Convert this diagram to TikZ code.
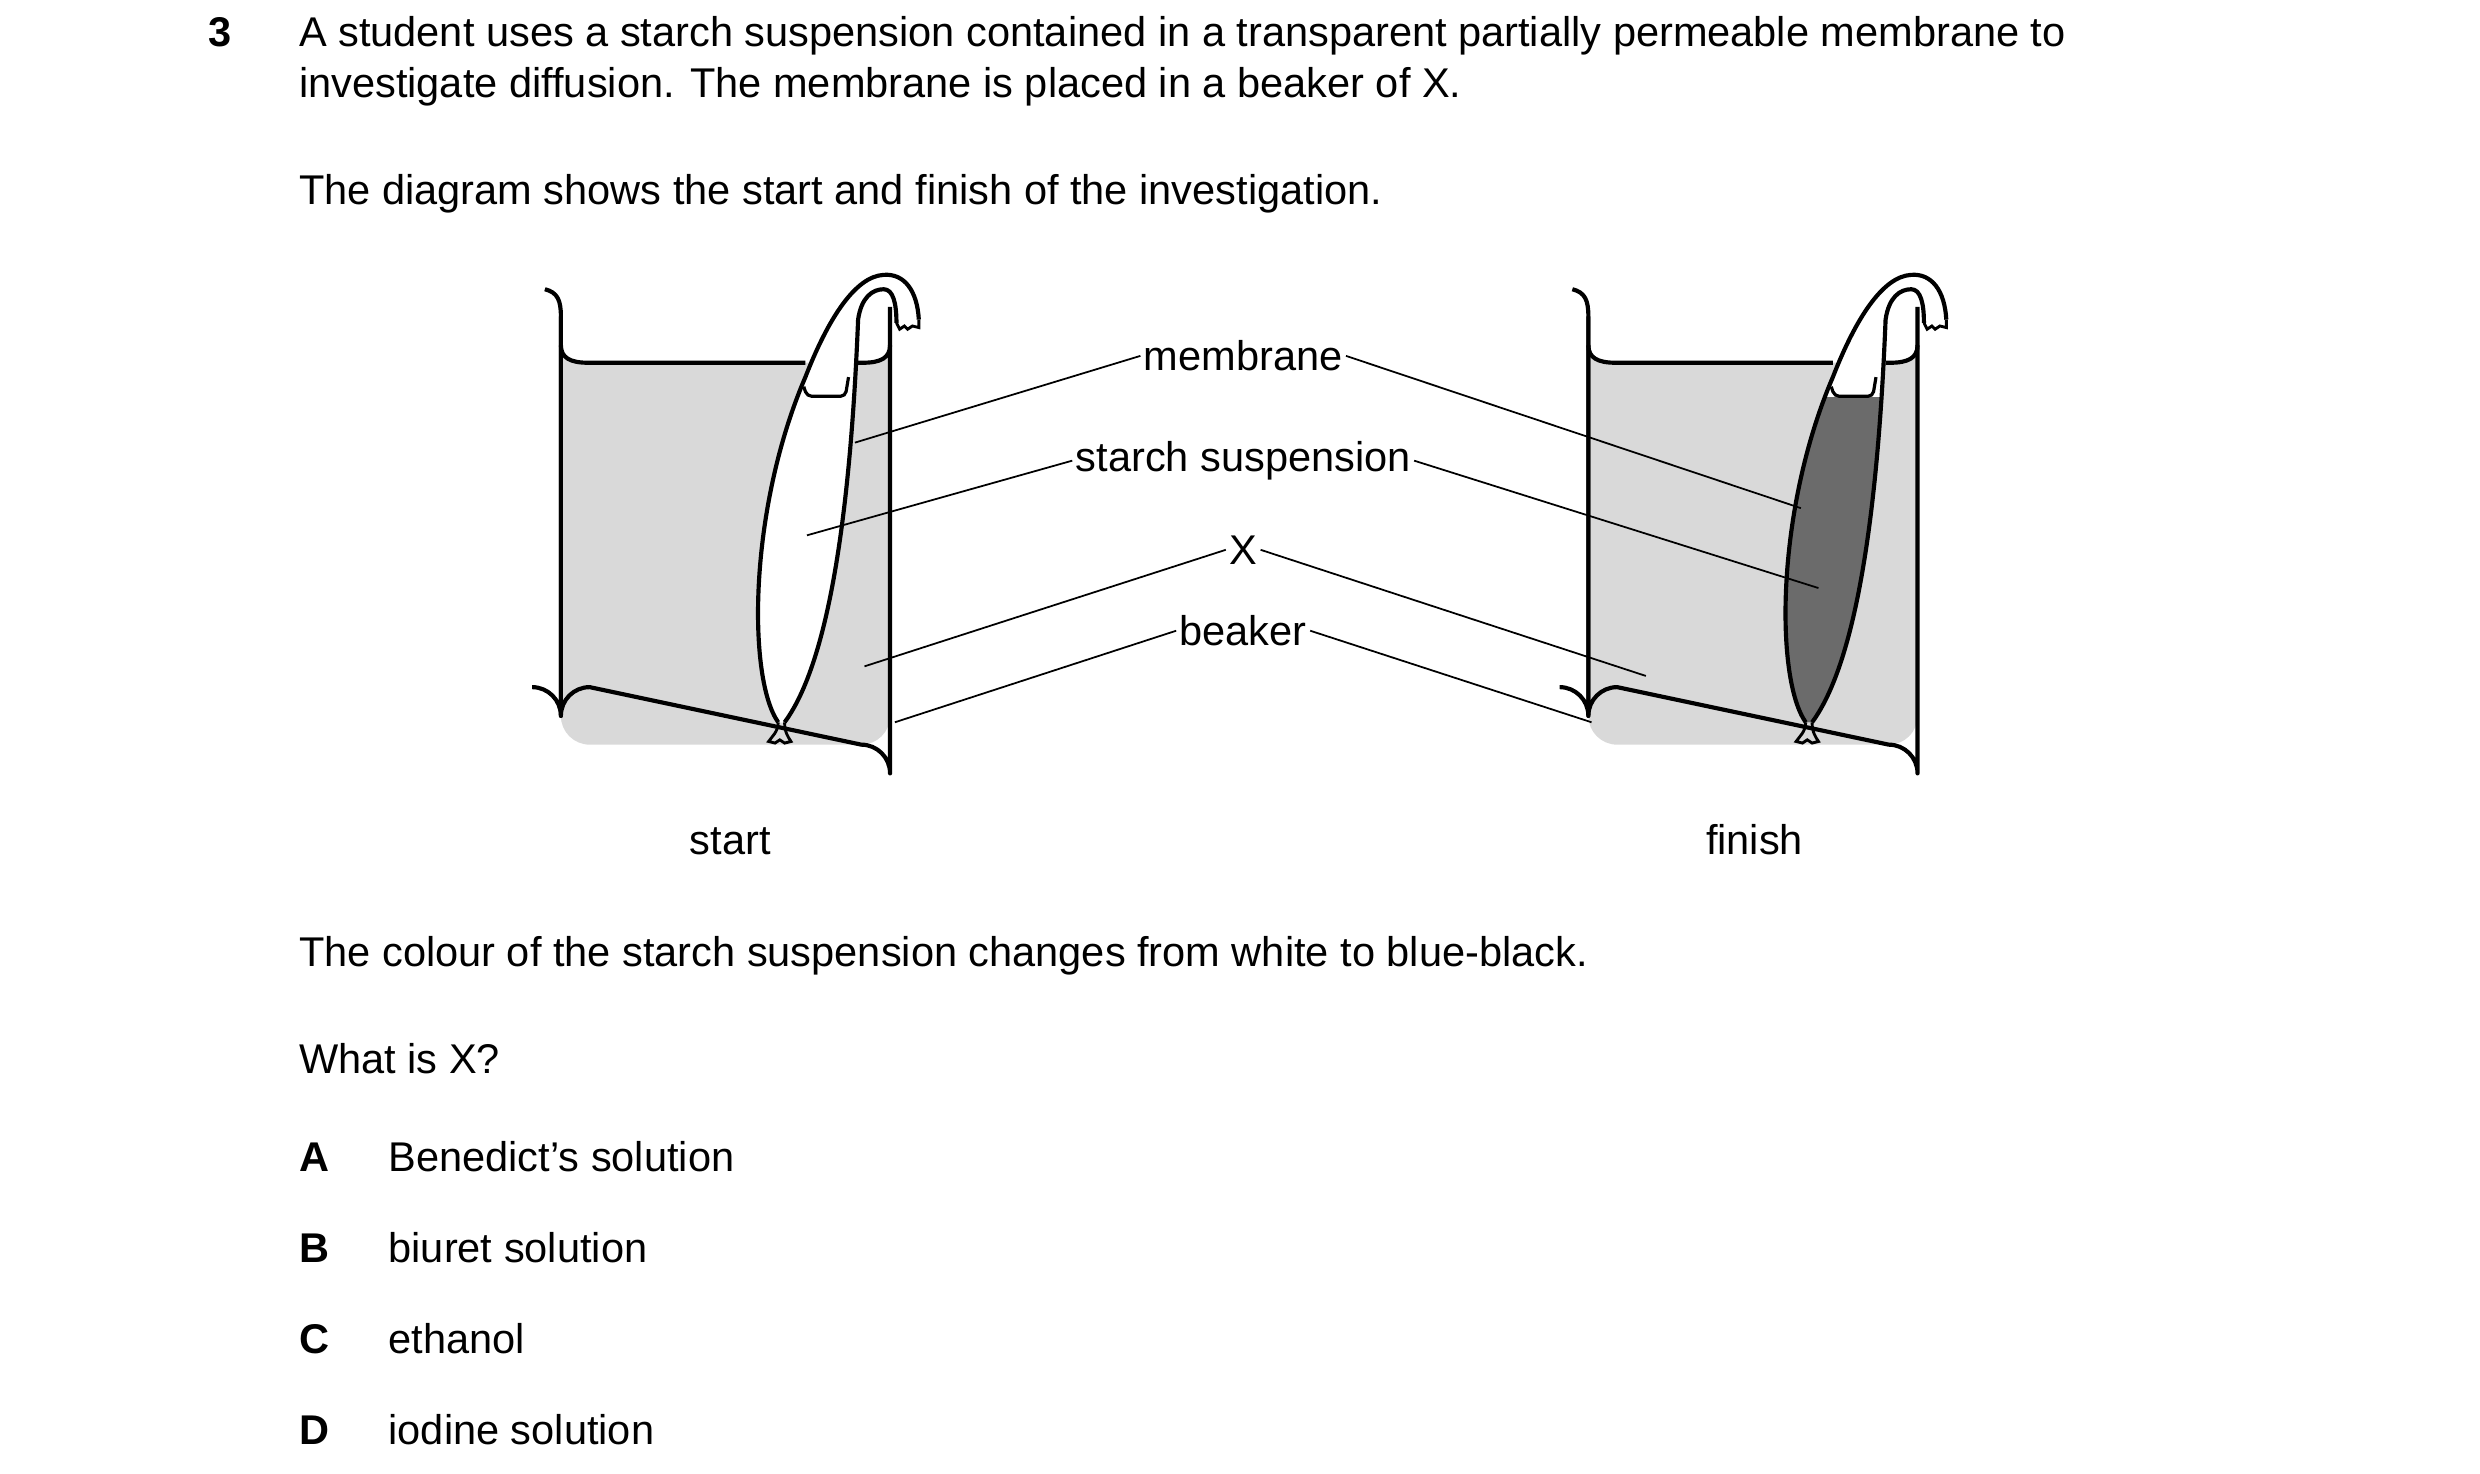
\documentclass[tikz,border=0pt]{standalone}
\usepackage{fontspec}
\setmainfont{Liberation Sans}
\begin{document}
\begin{tikzpicture}[x=1pt,y=-1pt,
  txt/.style={anchor=base west,inner sep=0pt,font=\fontsize{26}{31}\selectfont},
  lab/.style={anchor=base,inner sep=2pt,font=\fontsize{26}{31}\selectfont},
  outline/.style={line width=2.6pt,line join=round},
  leader/.style={line width=1.1pt},
  pics/beaker/.style={code={
    % water
    \fill[black!15] (351,216) .. controls (351,224) and (357,227) .. (368,227) -- (540,227) .. controls (551,227) and (557,224) .. (557,216) -- (557,448) arc[start angle=0,end angle=90,radius=18] -- (369,466) arc[start angle=90,end angle=180,radius=18] -- cycle;
    % bag
    \path[fill=white] (487,452) .. controls (468,425) and (468,320) .. (504,236) .. controls (518,200) and (535,173) .. (553,172) .. controls (566,171) and (574,182) .. (575,200) -- (561,202) .. controls (561,190) and (559,181) .. (553,181) .. controls (546,181) and (539,186) .. (537,200) .. controls (533,300) and (522,410) .. (491,452) -- cycle;
    \begin{scope}
      \clip (400,249) rectangle (600,470);
      \fill[#1] (487,452) .. controls (468,425) and (468,320) .. (504,236) .. controls (518,200) and (535,173) .. (553,172) -- (537,200) .. controls (533,300) and (522,410) .. (491,452) -- cycle;
    \end{scope}
    \draw[outline] (487,452) .. controls (468,425) and (468,320) .. (504,236) .. controls (518,200) and (535,173) .. (553,172) .. controls (566,171) and (574,182) .. (575,200);
    \draw[outline] (561,202) .. controls (561,190) and (559,181) .. (553,181) .. controls (546,181) and (539,186) .. (537,200) .. controls (533,300) and (522,410) .. (491,452);
    \draw[line width=1.8pt] (561,202) -- (563,206) -- (566,204) -- (568,206) -- (571,204) -- (575,205) -- (575,200);
    \draw[line width=1.8pt] (487,452) .. controls (487,458) and (483,461) .. (481,464) -- (485,465) -- (488,463) -- (491,465) -- (495,464) .. controls (493,461) and (491,458) .. (491,452);
    \draw[line width=2pt,rounded corners=3pt] (503,242) -- (505,248) -- (529,248) -- (531,236);
    % beaker
    \draw[outline] (341,181) .. controls (349,183) and (351,188) .. (351,198) -- (351,448) arc[start angle=180,end angle=90,radius=-18] ;
    \draw[outline] (351,198) -- (351,448) arc[start angle=180,end angle=270,radius=18] -- (539,466) arc[start angle=270,end angle=360,radius=18] -- (557,192);
    \draw[outline] (351,216) .. controls (351,224) and (357,227) .. (368,227) -- (504,227);
    \draw[outline] (537,227) -- (540,227) .. controls (551,227) and (557,224) .. (557,216);
  }}]
\useasboundingbox (0,0) rectangle (1552,922);
\node[txt,font=\fontsize{26}{31}\selectfont\bfseries] (n3) at (130,29) {3};
\node[txt] (q1) at (187,29) {A student uses a starch suspension contained in a transparent partially permeable membrane to};
\node[txt] (q2) at (187,61) {investigate diffusion. The membrane is placed in a beaker of X.};
\node[txt] (q3) at (187,128) {The diagram shows the start and finish of the investigation.};

\pic at (0,0) {beaker=white};
\pic at (643,0) {beaker=black!58};

\node[lab] (lm) at (778,232) {membrane};
\node[lab] (ls) at (778,295) {starch suspension};
\node[lab] (lx) at (778,353) {X};
\node[lab] (lb) at (778,404) {beaker};
\coordinate (m1) at (535,277); \coordinate (m2) at (1127,318);
\coordinate (s1) at (505,335); \coordinate (s2) at (1138,368);
\coordinate (x1) at (541,417); \coordinate (x2) at (1030,423);
\coordinate (b1) at (560,452); \coordinate (b2) at (996,452);
\draw[leader] (m1) -- (lm.west) (lm.east) -- (m2);
\draw[leader] (s1) -- (ls.west) (ls.east) -- (s2);
\draw[leader] (x1) -- (lx.west) (lx.east) -- (x2);
\draw[leader] (b1) -- (lb.west) (lb.east) -- (b2);

\node[lab] (st) at (457,535) {start};
\node[lab] (fi) at (1098,535) {finish};
\node[txt] (q4) at (187,605) {The colour of the starch suspension changes from white to blue-black.};
\node[txt] (q5) at (187,672) {What is X?};
\node[txt,font=\fontsize{26}{31}\selectfont\bfseries] (oa) at (187,733) {A};
\node[txt] (ta) at (243,733) {Benedict’s solution};
\node[txt,font=\fontsize{26}{31}\selectfont\bfseries] (ob) at (187,790) {B};
\node[txt] (tb) at (243,790) {biuret solution};
\node[txt,font=\fontsize{26}{31}\selectfont\bfseries] (oc) at (187,847) {C};
\node[txt] (tc) at (243,847) {ethanol};
\node[txt,font=\fontsize{26}{31}\selectfont\bfseries] (od) at (187,904) {D};
\node[txt] (td) at (243,904) {iodine solution};
\end{tikzpicture}
\end{document}
